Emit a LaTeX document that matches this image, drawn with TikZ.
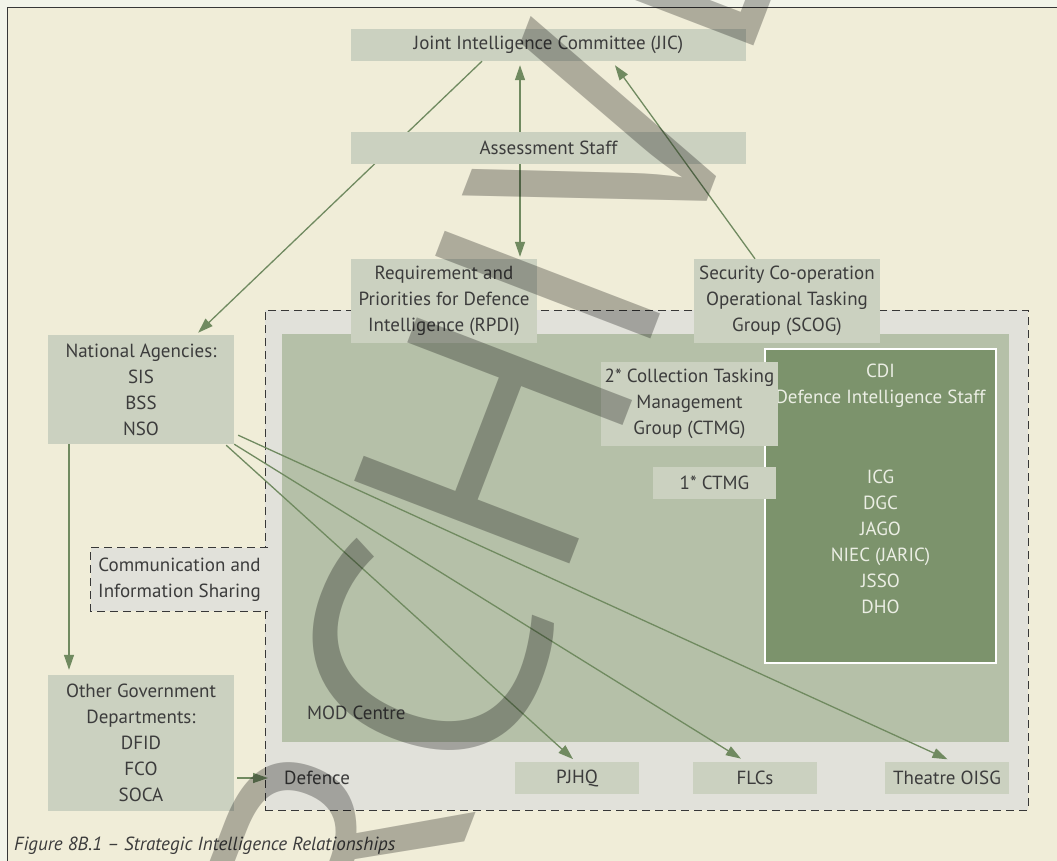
\documentclass[tikz,border=0pt]{standalone}
\usepackage{fontspec}
\setmainfont{PT Sans}
\newfontfamily\wmfont{Open Sans}
\usetikzlibrary{positioning,arrows.meta}
\definecolor{outerbg}{RGB}{242,244,233}
\definecolor{cream}{RGB}{240,237,216}
\definecolor{boxc}{RGB}{203,209,192}
\definecolor{defc}{RGB}{225,225,218}
\definecolor{modc}{RGB}{181,192,168}
\definecolor{disc}{RGB}{124,147,108}
\definecolor{txt}{RGB}{60,60,60}
\definecolor{distxt}{RGB}{235,238,228}
\definecolor{arrc}{RGB}{112,138,96}
\definecolor{dashc}{RGB}{55,55,55}
\newcommand{\diagfont}{\fontsize{19}{26}\selectfont}

\begin{document}
\begin{tikzpicture}[
		x=1pt, y=-1pt,
		every node/.style={font=\diagfont, text=txt, inner sep=0pt},
		box/.style={fill=boxc, align=center},
		wide box/.style={box, minimum width=395pt, minimum height=32pt},
		tall box/.style={box, minimum width=186pt},
		small box/.style={box, minimum width=124pt, minimum height=32pt},
		dashline/.style={draw=dashc, line width=1pt, dash pattern=on 8pt off 5pt},
		zone/.style={dashline, fill=defc},
		arr/.style={draw=arrc, line width=1.3pt, -{Triangle[length=15pt,width=10pt]}},
		watermark/.style={rotate=69, text=black, text opacity=0.28, font=\wmfont\fontsize{323}{323}\selectfont}
		]
		\useasboundingbox (0,0) rectangle (1057,861);
		\clip (0,0) rectangle (1057,861);
		\fill[outerbg] (0,0) rectangle (1057,861);
		\fill[cream] (7,8) rectangle (1057,861);
		\draw[dashc, line width=1pt] (7,861) -- (7,8) -- (1057,8);

		\node[zone, minimum width=763pt, minimum height=500pt] (def) at (646.5,560) {};
		\node[anchor=west] (deflabel) at (284,778) {Defence};
		\node[fill=modc, minimum width=727pt, minimum height=408pt] (mod) at (645.5,538) {};
		\node[anchor=west] (modlabel) at (307,713) {MOD Centre};
		\node[fill=defc, align=center, minimum width=177pt, minimum height=63pt] (comm) at (179.5,579.5) {Communication and\\Information Sharing};
		\draw[dashline] (comm.north east) -- (comm.north west) -- (comm.south west) -- (comm.south east);

		\node[fill=disc, draw=white, line width=2.5pt, minimum width=231pt, minimum height=314pt] (dis) at (880.5,506) {};
		\node[below=16pt of dis.north, align=center, text=distxt] (distext) {CDI\\Defence Intelligence Staff\\[54pt]ICG\\DGC\\JAGO\\NIEC (JARIC)\\JSSO\\DHO};

		\node[wide box] (jic) at (548.5,45) {Joint Intelligence Committee (JIC)};
		\node[tall box, minimum height=109pt] (na) at (141,389.5) {National Agencies:\\SIS\\BSS\\NSO};
		\draw[arr, shorten >=3pt] ([xshift=-66.5pt]jic.south) -- ([xshift=55pt]na.north);
		\node[wide box] (as) at (548.5,148) {Assessment Staff};
		\node[tall box, minimum height=84pt] (rpdi) at (444,301) {Requirement and\\Priorities for Defence\\Intelligence (RPDI)};
		\node[tall box, minimum height=84pt] (scog) at (787,301) {Security Co-operation\\Operational Tasking\\Group (SCOG)};
		\node[tall box, minimum height=136pt] (ogd) at (141,743) {Other Government\\Departments:\\DFID\\FCO\\SOCA};
		\node[box, minimum width=177pt, minimum height=84pt] (ctmgtwo) at (689.5,404) {2* Collection Tasking\\Management\\Group (CTMG)};
		\node[box, minimum width=123pt, minimum height=32pt] (ctmgone) at (714.5,483) {1* CTMG};
		\node[small box] (pjhq) at (577,778) {PJHQ};
		\node[small box] (flcs) at (755,778) {FLCs};
		\node[small box] (oisg) at (947,778) {Theatre OISG};

		\draw[arr, shorten >=4pt] ([xshift=-28.5pt]as.north) -- ([xshift=-28.5pt]jic.south);
		\draw[arr, shorten >=2pt] ([xshift=-28.5pt]as.south) -- ([xshift=76pt]rpdi.north);
		\draw[arr, shorten >=5pt] ([xshift=-32pt]scog.north) -- ([xshift=63.5pt]jic.south);
		\draw[arr, shorten >=5pt] ([xshift=-72pt]na.south) -- ([xshift=-72pt]ogd.north);
		\draw[arr, shorten >=4pt] ([xshift=-8pt,yshift=-1pt]na.south east) -- ([xshift=-1pt]pjhq.north);
		\draw[arr, shorten >=6pt] (na.south east) -- ([xshift=-9pt]flcs.north);
		\draw[arr, shorten >=6pt] ([xshift=4pt,yshift=9pt]na.south east) -- ([xshift=6pt]oisg.north);
		\coordinate (defin) at (268,778);
		\draw[arr] ([xshift=3pt,yshift=-35pt]ogd.east) -- (defin);

		\node[anchor=west, font=\diagfont\itshape] (caption) at (14,846) {Figure 8B.1 – Strategic Intelligence Relationships};

		\foreach \ch/\px/\py in {R/335/859, C/422/662, H/494/441, I/548/285, V/604/147, E/667/-50}
			\node[watermark] at (\px,\py) {\ch};
\end{tikzpicture}
\end{document}
